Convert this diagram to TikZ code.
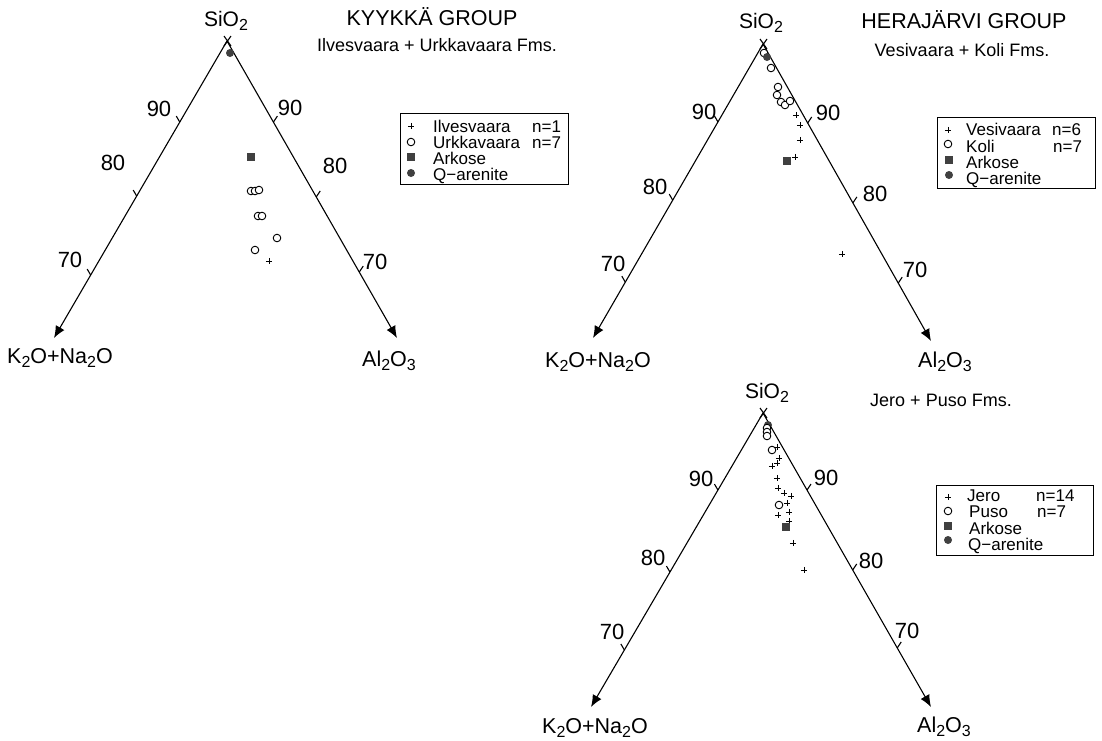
\documentclass[tikz,border=0pt]{standalone}
\usepackage{fontspec}
\setmainfont{Liberation Sans}
\usetikzlibrary{arrows.meta,calc}
\tikzset{
 x=1pt,y=-1pt,
 axis/.style={line width=1.1pt,-{Latex[length=12pt,width=10pt]}},
 tickm/.style={line width=1.1pt},
 lab/.style={font=\fontsize{22}{24}\selectfont,inner sep=0pt},
 apexl/.style={font=\fontsize{21}{23}\selectfont,inner sep=0pt},
 endl/.style={font=\fontsize{21.5}{24}\selectfont,inner sep=0pt},
 title/.style={font=\fontsize{21.5}{24}\selectfont,inner sep=0pt},
 subtitle/.style={font=\fontsize{18}{20}\selectfont,inner sep=0pt},
 legt/.style={font=\fontsize{17}{19}\selectfont,inner sep=0pt,anchor=base west},
 legbox/.style={draw,line width=1.2pt,fill=white},
}
\newcommand{\subd}[1]{\raisebox{-4pt}{\fontsize{16}{16}\selectfont #1}}
\newcommand{\pl}[2]{\draw[line width=.8pt] (#1-3.2,#2) -- (#1+3.2,#2) (#1,#2-3.2) -- (#1,#2+3.2);}
\newcommand{\oc}[2]{\draw[line width=.9pt,fill=white] (#1,#2) circle (3.8);}
\newcommand{\ar}[2]{\fill[black!75] (#1-4,#2-4) rectangle (#1+4,#2+4);}
\newcommand{\qz}[2]{\fill[black!75] (#1,#2) circle (4);}
% tick on axis #1--#2 at fraction #3, outward offset #4
\newcommand{\tk}[4]{\draw[tickm] ($(#1)!#3!(#2)$) -- ++(#4);}
\begin{document}
\begin{tikzpicture}
\useasboundingbox (0,0) rectangle (1102,740);
% Triangle 1
\coordinate (a1) at (227,41); \coordinate (l1) at (54,338); \coordinate (r1) at (397,338);
\draw[axis] (a1) -- (l1); \draw[axis] (a1) -- (r1);
\draw[tickm] (224,36) -- (231,46) (231,36) -- (224,46);
\tk{a1}{l1}{.273}{-3.5,-6}\tk{a1}{l1}{.522}{-3.5,-6}\tk{a1}{l1}{.788}{-3.5,-6}
\tk{a1}{r1}{.273}{4,-6}\tk{a1}{r1}{.525}{4,-6}\tk{a1}{r1}{.778}{4,-6}
\node[apexl] (t1a) at (226,21) {SiO\subd{2}};
\node[endl] (t1l) at (60,358) {K\subd{2}O+Na\subd{2}O};
\node[endl] (t1r) at (389,361) {Al\subd{2}O\subd{3}};
\node[lab] at (159,109) {90};\node[lab] at (113,163) {80};\node[lab] at (70,260) {70};
\node[lab] at (290,108) {90};\node[lab] at (335,166) {80};\node[lab] at (375,262) {70};
\node[title] at (432,17) {KYYKKÄ GROUP};
\node[subtitle] at (437,45) {Ilvesvaara + Urkkavaara Fms.};
\qz{230}{53}\ar{251}{157}
\oc{251}{191}\oc{255}{191}\oc{259}{190}\oc{258}{216}\oc{262}{216}\oc{277}{238}\oc{255}{250}\pl{269}{261}
\node[legbox,minimum width=168pt,minimum height=71pt,anchor=north west] (lg1) at (400,113) {};
\pl{411}{126}\oc{411}{142}\ar{411}{157}\qz{411}{173}
\node[legt] at (433,132) {Ilvesvaara};\node[legt] at (532,132) {n=1};
\node[legt] at (433,148) {Urkkavaara};\node[legt] at (532,148) {n=7};
\node[legt] at (433,164) {Arkose};\node[legt] at (433,180) {Q−arenite};
% Triangle 2
\coordinate (a2) at (763,44); \coordinate (l2) at (593,338); \coordinate (r2) at (931,341);
\draw[axis] (a2) -- (l2); \draw[axis] (a2) -- (r2);
\draw[tickm] (760,39) -- (767,49) (767,39) -- (760,49);
\tk{a2}{l2}{.265}{-3.5,-6}\tk{a2}{l2}{.531}{-3.5,-6}\tk{a2}{l2}{.81}{-3.5,-6}
\tk{a2}{r2}{.266}{4,-6}\tk{a2}{r2}{.535}{4,-6}\tk{a2}{r2}{.805}{4,-6}
\node[apexl] (t2a) at (761,23) {SiO\subd{2}};
\node[endl] (t2l) at (598,362) {K\subd{2}O+Na\subd{2}O};
\node[endl] (t2r) at (945,362) {Al\subd{2}O\subd{3}};
\node[lab] at (704,112) {90};\node[lab] at (655,187) {80};\node[lab] at (613,264) {70};
\node[lab] at (828,113) {90};\node[lab] at (875,194) {80};\node[lab] at (915,270) {70};
\node[title] at (964,20) {HERAJÄRVI GROUP};
\node[subtitle] at (962,50) {Vesivaara + Koli Fms.};
\oc{771}{68}\oc{764}{53}\qz{767}{57}
\oc{778}{87}\oc{777}{95}\oc{781}{102}\oc{785}{105}\oc{790}{101}
\pl{796}{115}\pl{800}{125}\pl{800}{140}\pl{795}{157}\pl{842}{254}\ar{787}{161}
\node[legbox,minimum width=158pt,minimum height=71pt,anchor=north west] (lg2) at (937,117) {};
\pl{948}{130}\oc{948}{144}\ar{949}{160}\qz{949}{175}
\node[legt] at (966,135) {Vesivaara};\node[legt] at (1052,135) {n=6};
\node[legt] at (966,152) {Koli};\node[legt] at (1053,152) {n=7};
\node[legt] at (966,168) {Arkose};\node[legt] at (966,184) {Q−arenite};
% Triangle 3
\coordinate (a3) at (763,413); \coordinate (l3) at (591,707); \coordinate (r3) at (931,707);
\draw[axis] (a3) -- (l3); \draw[axis] (a3) -- (r3);
\draw[tickm] (760,408) -- (767,418) (767,408) -- (760,418);
\tk{a3}{l3}{.262}{-3.5,-6}\tk{a3}{l3}{.541}{-3.5,-6}\tk{a3}{l3}{.806}{-3.5,-6}
\tk{a3}{r3}{.262}{4,-6}\tk{a3}{r3}{.534}{4,-6}\tk{a3}{r3}{.799}{4,-6}
\node[apexl] (t3a) at (767,393) {SiO\subd{2}};
\node[endl] (t3l) at (595,728) {K\subd{2}O+Na\subd{2}O};
\node[endl] (t3r) at (944,727) {Al\subd{2}O\subd{3}};
\node[lab] at (701,479) {90};\node[lab] at (653,558) {80};\node[lab] at (612,632) {70};
\node[lab] at (826,478) {90};\node[lab] at (871,561) {80};\node[lab] at (907,631) {70};
\node[subtitle] at (941,400) {Jero + Puso Fms.};
\qz{768}{425}\oc{767}{428}\oc{767}{432}\oc{767}{436}\oc{772}{450}\oc{779}{505}
\pl{777}{447}\pl{779}{458}\pl{777}{463}\pl{772}{466}\pl{777}{478}\pl{778}{488}\pl{784}{493}\pl{791}{496}\pl{787}{503}\pl{789}{512}\pl{778}{515}\pl{789}{521}\pl{793}{543}\pl{804}{570}
\ar{786}{527}
\node[legbox,minimum width=157pt,minimum height=70pt,anchor=north west] (lg3) at (936,485) {};
\pl{948}{497}\oc{948}{511}\ar{948}{526}\qz{948}{540}
\node[legt] at (967,501) {Jero};\node[legt] at (1036,501) {n=14};
\node[legt] at (969,517) {Puso};\node[legt] at (1037,517) {n=7};
\node[legt] at (969,534) {Arkose};\node[legt] at (968,550) {Q−arenite};
\end{tikzpicture}
\end{document}
